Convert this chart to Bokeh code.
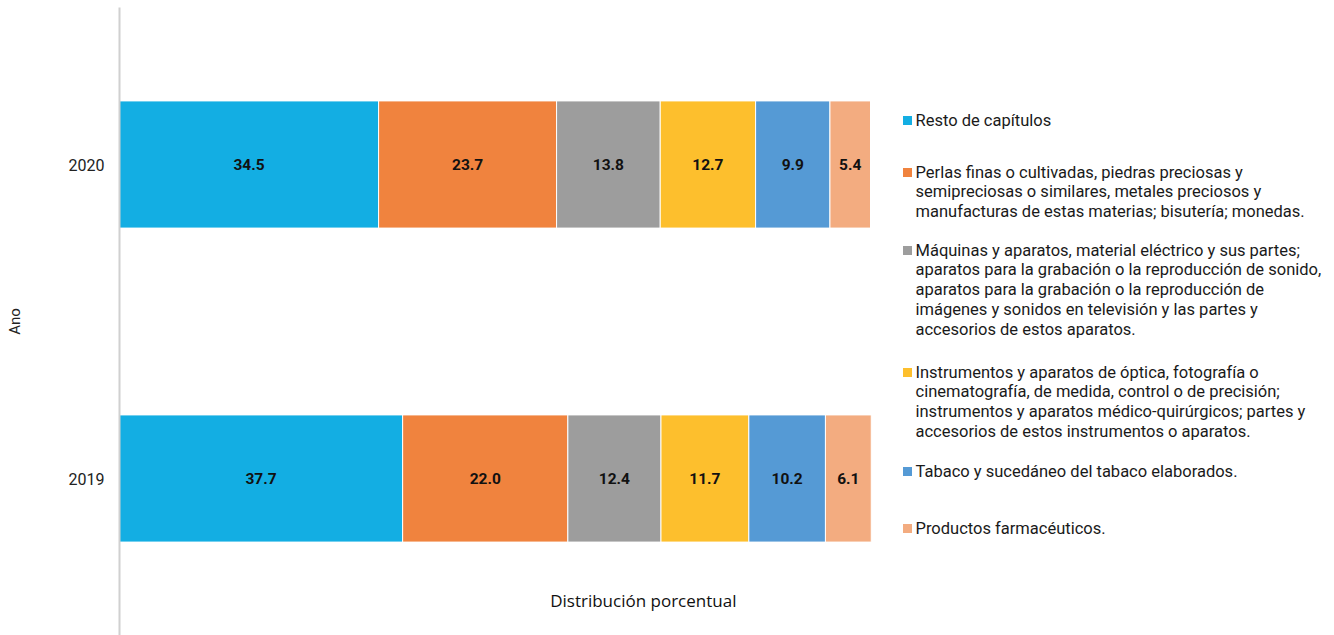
from bokeh.plotting import figure
from bokeh.models import Range1d, FixedTicker, ColumnDataSource, Label
from bokeh.embed import file_html
from bokeh.resources import INLINE
from bokeh.core.properties import value

# ---------------- data ----------------
years = ["2019", "2020"]
categories = [
    "Resto de capítulos",
    "Perlas finas o cultivadas, piedras preciosas y\nsemipreciosas o similares, metales preciosos y\nmanufacturas de estas materias; bisutería; monedas.",
    "Máquinas y aparatos, material eléctrico y sus partes;\naparatos para la grabación  o la reproducción de sonido,\naparatos para la grabación o la reproducción de\nimágenes y sonidos en televisión y las partes y\naccesorios de estos aparatos.",
    "Instrumentos y aparatos de óptica, fotografía o\ncinematografía, de medida, control o de precisión;\ninstrumentos y aparatos médico-quirúrgicos; partes y\naccesorios de estos instrumentos o aparatos.",
    "Tabaco y sucedáneo del tabaco elaborados.",
    "Productos farmacéuticos.",
]
values_2019 = [37.7, 22.0, 12.4, 11.7, 10.2, 6.1]
values_2020 = [34.5, 23.7, 13.8, 12.7, 9.9, 5.4]
colors = ["#13AEE3", "#F0833E", "#9D9D9D", "#FDBF2D", "#559AD5", "#F3AC80"]
x_title = "Distribución  porcentual"
y_title = "Ano"

# ---------------- layout constants ----------------
W, H = 1334, 635
FRAME_LEFT = 119
TOP = 7
PX_PER_UNIT = 7.51
X_END = (W - FRAME_LEFT) / PX_PER_UNIT
Y_PX = (H - TOP) / 2.0  # pixels per y unit
FONT = "Roboto"


def ydata(page_y):
    return 2 - (page_y - TOP) / Y_PX


def xdata(page_x):
    return (page_x - FRAME_LEFT) / PX_PER_UNIT


p = figure(width=W, height=H, output_backend="svg", toolbar_location=None,
           x_range=Range1d(0, X_END), y_range=Range1d(0, 2),
           min_border_left=FRAME_LEFT, min_border_right=0,
           min_border_top=TOP, min_border_bottom=0)
p.outline_line_color = None
p.xgrid.visible = False
p.ygrid.visible = False
p.xaxis.visible = False

# bars
ys, lefts, rights, cols, labels, lx = [], [], [], [], [], []
for yi, vals in enumerate([values_2019, values_2020]):
    acc = 0.0
    for v, c in zip(vals, colors):
        ys.append(yi + 0.5)
        lefts.append(acc)
        rights.append(acc + v)
        cols.append(c)
        labels.append(f"{v:.1f}")
        lx.append(acc + v / 2)
        acc += v

src = ColumnDataSource(dict(y=ys, left=lefts, right=rights, color=cols, label=labels, lx=lx))
p.hbar(y="y", left="left", right="right", height=0.405, fill_color="color",
       line_color="white", line_width=1, source=src)
p.text(x="lx", y="y", text="label", source=src, text_align="center", text_baseline="middle",
       text_font=value(FONT), text_font_style="bold", text_font_size="15.5px", text_color="#111111")

# y axis
ax = p.yaxis[0]
ax.ticker = FixedTicker(ticks=[0.5, 1.5])
ax.major_label_overrides = {0.5: years[0], 1.5: years[1]}
ax.major_tick_line_color = None
ax.minor_tick_line_color = None
ax.major_tick_out = 0
ax.major_tick_in = 0
ax.axis_line_color = "#d0d0d0"
ax.axis_line_width = 2
ax.major_label_standoff = 15
ax.major_label_text_font = FONT
ax.major_label_text_font_size = "16px"
ax.major_label_text_color = "#222222"
ax.axis_label = y_title
ax.axis_label_text_font = FONT
ax.axis_label_text_font_style = "normal"
ax.axis_label_text_font_size = "15px"
ax.axis_label_text_color = "#222222"
ax.axis_label_standoff = 42

# legend (drawn manually)
first_line_centers = [120, 172, 250, 372, 471, 528]
LINE_H = 20
lg = ColumnDataSource(dict(
    sx=[xdata(907)] * len(categories),
    sy=[ydata(c) for c in first_line_centers],
    tx=[xdata(915)] * len(categories),
    ty=[ydata(c - LINE_H / 2) for c in first_line_centers],
    text=categories, color=colors))
p.scatter(x="sx", y="sy", marker="square", size=9, fill_color="color", line_color=None, source=lg)
p.text(x="tx", y="ty", text="text", source=lg, text_align="left", text_baseline="top",
       text_font=value(FONT), text_font_size="16.5px", text_line_height=1.045,
       text_color="#1a1a1a")

p.add_layout(Label(x=xdata(645), y=ydata(600), text=x_title, text_align="center",
                   text_baseline="middle", text_font="Open Sans", text_font_size="17px",
                   text_color="#111111"))

open("out.html", "w").write(file_html(p, INLINE))
